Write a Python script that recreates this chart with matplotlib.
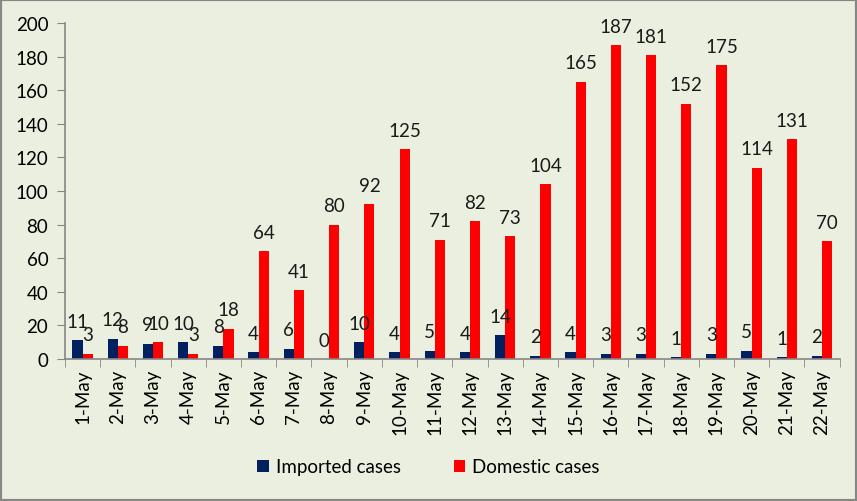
import matplotlib
matplotlib.use("Agg")
import matplotlib.pyplot as plt
import numpy as np
from matplotlib.patches import Rectangle

categories = [f"{d}-May" for d in range(1, 23)]
imported = [11, 12, 9, 10, 8, 4, 6, 0, 10, 4, 5, 4, 14, 2, 4, 3, 3, 1, 3, 5, 1, 2]
domestic = [3, 8, 10, 3, 18, 64, 41, 80, 92, 125, 71, 82, 73, 104, 165, 187, 181, 152, 175, 114, 131, 70]

plt.rcParams['font.family'] = ['Lato', 'DejaVu Sans']
bg = '#EBEFDF'
axc = '#878787'

fig = plt.figure(figsize=(8.57, 5.02), dpi=100, facecolor=bg)
fig.patches.append(Rectangle((0, 0), 1, 1, transform=fig.transFigure, fill=False,
                             edgecolor=axc, linewidth=3, zorder=10))
ax = fig.add_axes([0.0758, 0.283, 0.904, 0.669])
ax.set_facecolor(bg)

x = np.arange(len(categories))
w = 0.29
b1 = ax.bar(x - w/2, imported, w, color='#002060', label='Imported cases')
b2 = ax.bar(x + w/2, domestic, w, color='#FF0000', label='Domestic cases')
fs = 13.5
for xi, v in zip(x, imported):
    ax.annotate(str(v), (xi - w/2, v), xytext=(0, 7.5), textcoords='offset points',
                ha='center', va='bottom', fontsize=fs, color='#1a1a1a')
for xi, v in zip(x, domestic):
    ax.annotate(str(v), (xi + w/2, v), xytext=(0, 7.5), textcoords='offset points',
                ha='center', va='bottom', fontsize=fs, color='#1a1a1a')

ax.set_xlim(-0.5, len(categories) - 0.5)
ax.set_ylim(0, 200)
ax.set_yticks(range(0, 201, 20))
ax.set_xticks(x)
ax.set_xticklabels(categories, rotation=90, fontsize=fs)
ax.set_xticks(np.arange(-0.5, len(categories), 1), minor=True)
ax.tick_params(axis='x', which='major', length=0, pad=7)
ax.tick_params(axis='x', which='minor', length=6, color=axc, direction='out')
ax.tick_params(axis='y', length=6, color=axc, direction='out', labelsize=fs, pad=6)
for s in ['top', 'right']:
    ax.spines[s].set_visible(False)
for s in ['left', 'bottom']:
    ax.spines[s].set_color(axc)
    ax.spines[s].set_linewidth(1.2)

fig.legend(handles=[b1, b2], loc='center', bbox_to_anchor=(0.5, 0.068), ncol=2,
           frameon=False, fontsize=fs, handlelength=0.6, handleheight=0.6,
           handletextpad=0.4, columnspacing=2.8)

fig.savefig('out.png', dpi=100, facecolor=bg)
